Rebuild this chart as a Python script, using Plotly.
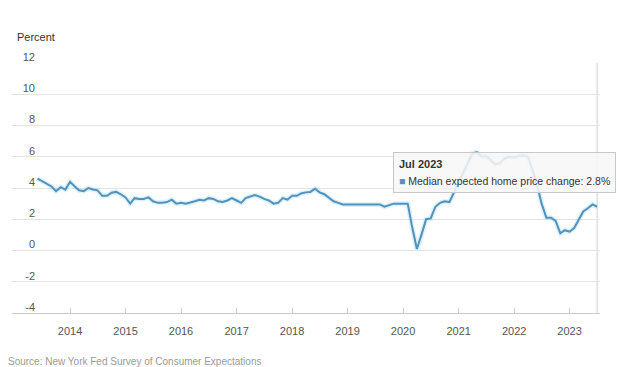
import pandas as pd
import plotly.graph_objects as go

# ---- data -------------------------------------------------------------
start_month = "2013-06-01"
values = [
    4.6, 4.45, 4.3, 4.1, 3.8, 4.05, 3.9, 4.4, 4.1, 3.85,
    3.8, 4.0, 3.9, 3.85, 3.5, 3.5, 3.7, 3.75, 3.6, 3.4,
    3.0, 3.35, 3.3, 3.3, 3.4, 3.15, 3.05, 3.05, 3.1, 3.25,
    3.0, 3.05, 3.0, 3.05, 3.15, 3.25, 3.2, 3.35, 3.3, 3.15,
    3.1, 3.2, 3.35, 3.2, 3.05, 3.35, 3.45, 3.55, 3.45, 3.3,
    3.2, 3.0, 3.05, 3.35, 3.25, 3.5, 3.5, 3.65, 3.72, 3.75,
    3.95, 3.72, 3.6, 3.35, 3.15, 3.05, 2.95, 2.95, 2.95, 2.95,
    2.95, 2.95, 2.95, 2.95, 2.95, 2.8, 2.9, 3.0, 3.0, 3.0,
    3.0, 1.5, 0.1, 1.0, 2.0, 2.05, 2.8, 3.05, 3.15, 3.1,
    3.7, 4.4, 5.0, 5.6, 6.2, 6.3, 6.0, 6.05, 5.8, 5.5,
    5.6, 5.9, 6.0, 5.95, 6.05, 6.1, 6.0, 5.2, 4.2, 3.0,
    2.1, 2.1, 1.9, 1.1, 1.3, 1.2, 1.45, 1.95, 2.5, 2.7,
    2.95, 2.8,
]
dates = pd.date_range(start_month, periods=len(values), freq="MS")

year_ticks = ["2014", "2015", "2016", "2017", "2018", "2019", "2020", "2021", "2022", "2023"]
y_ticks = [-4, -2, 0, 2, 4, 6, 8, 10, 12]
series_name = "Median expected home price change"
y_title = "Percent"
source_text = "Source: New York Fed Survey of Consumer Expectations"

# ---- figure -----------------------------------------------------------
LINE = "#4f93be"
FONT = "Liberation Sans, Arial, sans-serif"
W, H = 620, 367
ML, MR, MT, MB = 12, 20, 63, 54
PW, PH = W - ML - MR, H - MT - MB


def px_x(px):
    return (px - ML) / PW


def px_y(py):
    return (H - MB - py) / PH


fig = go.Figure()
fig.add_trace(go.Scatter(
    x=dates, y=values, mode="lines",
    line=dict(color="rgba(150,210,235,0.3)", width=5),
    hoverinfo="skip", showlegend=False,
))
fig.add_trace(go.Scatter(
    x=dates, y=values, mode="lines", name=series_name,
    line=dict(color=LINE, width=2),
    hoverinfo="skip", showlegend=False,
))

# crosshair at last point
fig.add_shape(type="line", x0=dates[-1], x1=dates[-1], xref="x",
              y0=0, y1=1, yref="paper",
              line=dict(color="#d0d0d0", width=1), layer="below")

last_label = dates[-1].strftime("%b %Y")
fig.add_annotation(
    x=dates[-1], y=values[-1], xref="x", yref="y",
    xanchor="right", yanchor="bottom", xshift=19, yshift=14,
    showarrow=False, align="left",
    text=(f"<b><span style='font-size:11px'>{last_label}</span></b><br>"
          f"<span style='font-size:10.5px'><span style='color:{LINE}'>■</span> "
          f"{series_name}: {values[-1]:.1f}%</span>"),
    font=dict(family=FONT, size=13, color="#333333"),
    bgcolor="rgba(247,247,247,0.85)", bordercolor="#c8c8c8", borderwidth=1, borderpad=5,
)

fig.add_annotation(
    x=px_x(15), y=px_y(37), xref="paper", yref="paper",
    xanchor="left", yanchor="middle", showarrow=False,
    text=y_title, font=dict(family=FONT, size=11, color="#333333"),
)
fig.add_annotation(
    x=px_x(6), y=px_y(361), xref="paper", yref="paper",
    xanchor="left", yanchor="middle", showarrow=False,
    text=source_text, font=dict(family=FONT, size=10, color="#9a9a9a"),
)

fig.update_layout(
    width=W, height=H, autosize=False,
    margin=dict(l=ML, r=MR, t=MT, b=MB, pad=0),
    paper_bgcolor="white", plot_bgcolor="white",
    font=dict(family=FONT, size=11, color="#555555"),
    showlegend=False,
    xaxis=dict(
        type="date", range=["2012-12-15", "2023-07-20"],
        tickvals=[f"{y}-01-01" for y in year_ticks], ticktext=year_ticks,
        ticks="inside", ticklen=5, tickcolor="#cccccc",
        showgrid=False, zeroline=False,
        showline=True, linecolor="#c8c8c8", linewidth=1,
        tickfont=dict(size=11, color="#555555"),
        ticklabelstandoff=8,
    ),
    yaxis=dict(
        range=[-4, 12], tickvals=y_ticks, ticktext=[str(v) for v in y_ticks],
        showgrid=True, gridcolor="#e3e3e3", gridwidth=1,
        zeroline=False, showline=False, ticks="",
        anchor="free", position=px_x(35),
        ticklabelshift=-6,
        tickfont=dict(size=11, color="#555555"),
    ),
)

fig.write_html(
    "out.html",
    config={"displayModeBar": False, "staticPlot": True},
    post_script="document.body.style.margin='0px';document.body.style.overflow='hidden';",
)
